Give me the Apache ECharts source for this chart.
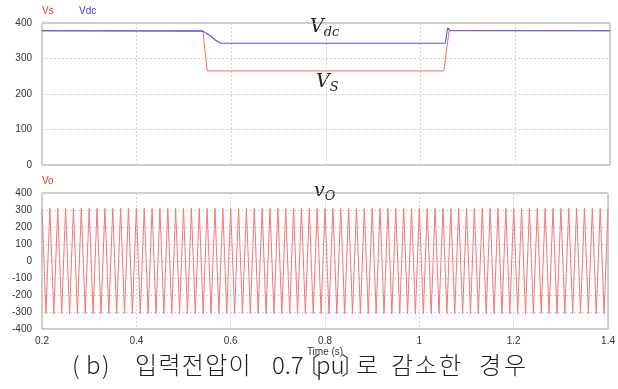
<!DOCTYPE html>
<html>
<head>
<meta charset="utf-8">
<script src="https://cdn.jsdelivr.net/npm/echarts@6/dist/echarts.min.js"></script>
<style>
  html, body { margin: 0; padding: 0; background: #fff; }
  #chart { width: 618px; height: 389px; }
</style>
</head>
<body>
<div id="chart"></div>
<script>
// Source voltage Vs and DC-link voltage Vdc (top panel)
var vsTime  = [0.2, 0.540, 0.549, 1.049, 1.060, 1.4];
var vsValue = [378, 378, 265, 265, 378, 378];

var vdcTime  = [0.2, 0.540, 0.548, 0.556, 0.566, 0.578, 1.052, 1.057, 1.062, 1.4];
var vdcValue = [378, 377, 370, 364, 352, 343, 343, 386, 379, 378];

// Output voltage vo (bottom panel): successive peak / trough samples, 60 Hz
var voStart = 0.2;
var voStep = 1 / 120;
var voValue = [
  305, -310, 310, -310, 310, -310, 310, -310, 310, -310, 310, -310,
  310, -310, 310, -310, 310, -310, 310, -310, 310, -310, 310, -310,
  310, -310, 310, -310, 310, -310, 310, -310, 310, -310, 310, -310,
  310, -310, 310, -310, 310, -310, 310, -310, 310, -310, 310, -310,
  310, -310, 310, -310, 310, -310, 310, -310, 310, -310, 310, -310,
  310, -310, 310, -310, 310, -310, 310, -310, 310, -310, 310, -310,
  310, -310, 310, -310, 310, -310, 310, -310, 310, -310, 310, -310,
  310, -310, 310, -310, 310, -310, 310, -310, 310, -310, 310, -310,
  310, -310, 310, -310, 310, -310, 310, -310, 310, -310, 310, -310,
  310, -310, 310, -310, 310, -310, 310, -310, 310, -310, 310, -310,
  310, -310, 310, -310, 310, -310, 310, -310, 310, -310, 310, -310,
  310, -310, 310, -310, 310, -310, 310, -310, 310, -310, 310, -310,
  310
];

var xTicks = [0.2, 0.4, 0.6, 0.8, 1, 1.2, 1.4];
var topTicks = [0, 100, 200, 300, 400];
var bottomTicks = [-400, -300, -200, -100, 0, 100, 200, 300, 400];

function pairs(xs, ys) {
  return xs.map(function (x, i) { return [x, ys[i]]; });
}
var voData = voValue.map(function (v, i) { return [voStart + i * voStep, v]; });

var labelFont = 'Liberation Sans';
var gridLine = { show: true, lineStyle: { color: '#d2d2d2', type: [2, 2], width: 1 } };

function xAxis(gridIndex, showLabels) {
  return {
    type: 'value', gridIndex: gridIndex,
    min: xTicks[0], max: xTicks[xTicks.length - 1], interval: 0.2,
    axisLine: { show: false }, axisTick: { show: false },
    splitLine: gridLine,
    axisLabel: {
      show: showLabels, margin: 7, fontSize: 10, color: '#333', fontFamily: labelFont,
      formatter: function (v) { return String(Math.round(v * 10) / 10); }
    },
    name: showLabels ? 'Time (s)' : '', nameLocation: 'middle', nameGap: 18,
    nameTextStyle: { fontSize: 10, color: '#333', fontFamily: labelFont }
  };
}
function yAxis(gridIndex, ticks) {
  return {
    type: 'value', gridIndex: gridIndex,
    min: ticks[0], max: ticks[ticks.length - 1], interval: 100,
    axisLine: { show: false }, axisTick: { show: false },
    splitLine: gridLine,
    axisLabel: { margin: 10, fontSize: 10, color: '#333', fontFamily: labelFont }
  };
}

// italic symbol with subscript
function symbol(left, top, main, sub) {
  return { type: 'text', left: left, top: top, style: {
    text: '{v|' + main + '}{s|' + sub + '}', rich: {
      v: { font: 'italic 19px "DejaVu Serif"', fill: '#222' },
      s: { font: 'italic 13px "DejaVu Serif"', fill: '#222', padding: [11, 0, 0, 0] }
    } } };
}
// caption pieces: a run of characters laid out on a fixed advance
var capFont = '300 24px "Noto Sans CJK KR"';
function capRun(left, advance, text) {
  return text.split('').map(function (ch, i) {
    return { type: 'text', left: left + i * advance, top: 353,
             style: { text: ch, fill: '#1e1e1e', font: capFont } };
  });
}
function cap(left, text) {
  return [{ type: 'text', left: left, top: 353, style: { text: text, fill: '#1e1e1e', font: capFont } }];
}

var captionParts = [].concat(
  cap(72, '('), cap(86, 'b'), cap(102, ')'),
  capRun(135, 23.4, '입력전압이'),
  cap(272, '0.7'),
  cap(296, '〔'),
  cap(316, 'pu'),
  cap(341, '〕'),
  cap(356, '로'),
  capRun(391, 24, '감소한'),
  capRun(479, 25, '경우')
);

var chart = echarts.init(document.getElementById('chart'), null, { renderer: 'canvas' });
chart.setOption({
  animation: false,
  backgroundColor: '#ffffff',
  grid: [
    { left: 42, top: 23, width: 568, height: 142, show: true, borderColor: '#9a9a9a', borderWidth: 1, backgroundColor: 'transparent' },
    { left: 42, top: 193, width: 568, height: 136, show: true, borderColor: '#9a9a9a', borderWidth: 1, backgroundColor: 'transparent' }
  ],
  xAxis: [xAxis(0, false), xAxis(1, true)],
  yAxis: [yAxis(0, topTicks), yAxis(1, bottomTicks)],
  series: [
    { name: 'Vs', type: 'line', xAxisIndex: 0, yAxisIndex: 0, data: pairs(vsTime, vsValue),
      showSymbol: false, lineStyle: { color: '#f07070', width: 1 } },
    { name: 'Vdc', type: 'line', xAxisIndex: 0, yAxisIndex: 0, data: pairs(vdcTime, vdcValue),
      showSymbol: false, lineStyle: { color: '#5252e6', width: 1.1 } },
    { name: 'Vo', type: 'line', xAxisIndex: 1, yAxisIndex: 1, data: voData,
      showSymbol: false, lineStyle: { color: '#f27878', width: 1 } }
  ],
  graphic: [
    { type: 'text', left: 42, top: 6, style: { text: 'Vs', fill: '#e03a3a', font: '10px "Liberation Sans"' } },
    { type: 'text', left: 79, top: 6, style: { text: 'Vdc', fill: '#3a3ad8', font: '10px "Liberation Sans"' } },
    { type: 'text', left: 42, top: 176, style: { text: 'Vo', fill: '#e03a3a', font: '10px "Liberation Sans"' } },
    symbol(310, 18, 'V', 'dc'),
    symbol(316, 73, 'V', 'S'),
    symbol(314, 182, 'v', 'O')
  ].concat(captionParts)
});
</script>
</body>
</html>
